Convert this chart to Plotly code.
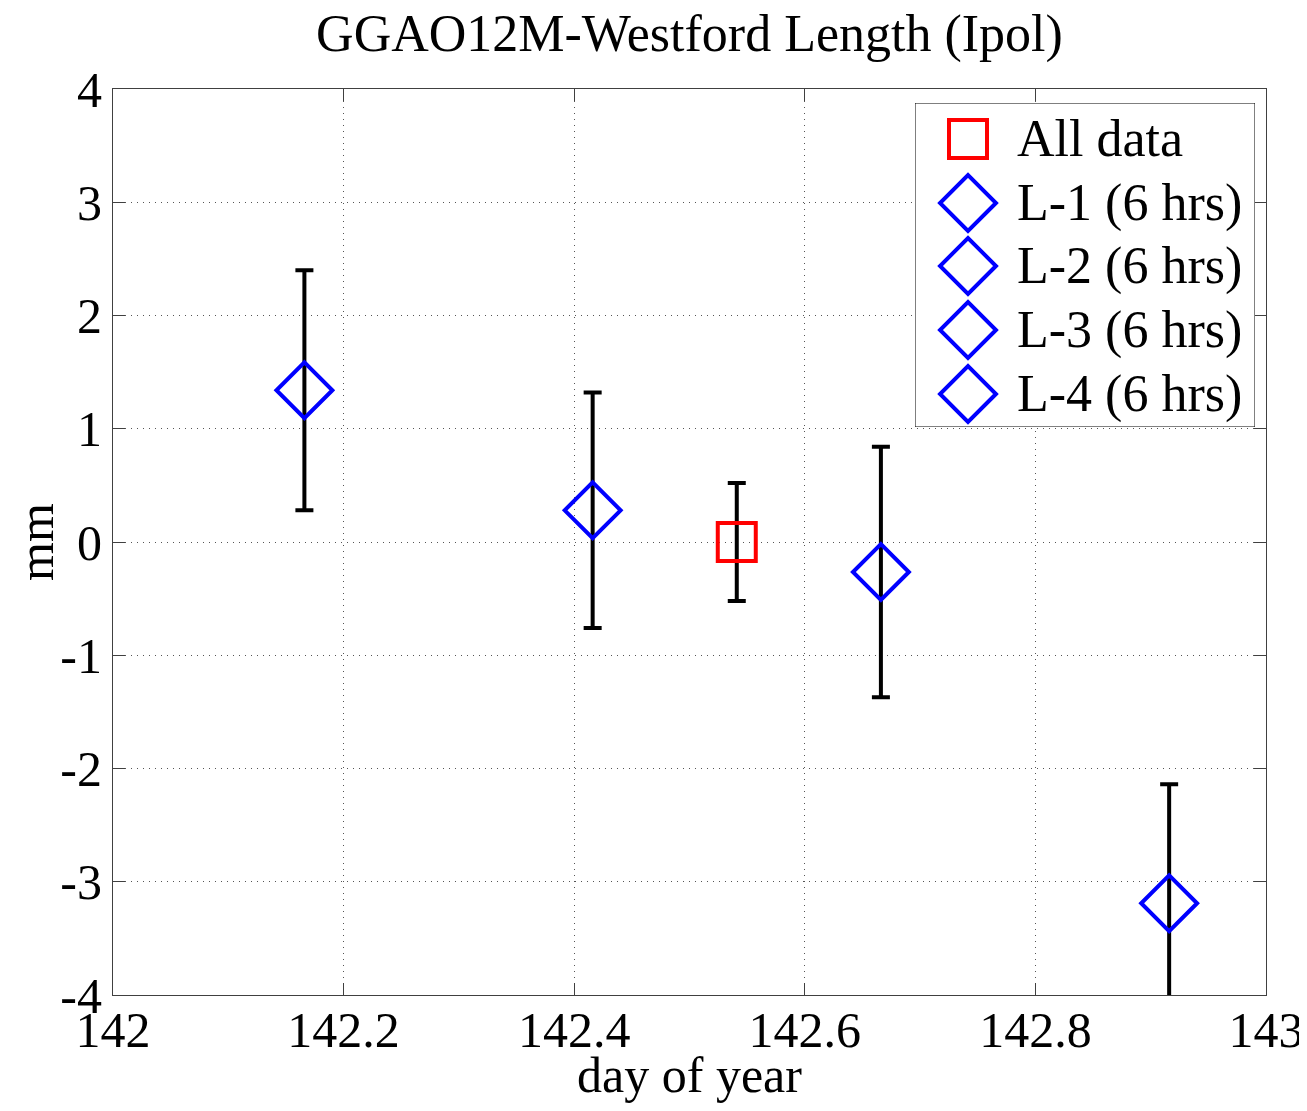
import plotly.graph_objects as go

# ---- data ----
series_names = ["All data", "L-1 (6 hrs)", "L-2 (6 hrs)", "L-3 (6 hrs)", "L-4 (6 hrs)"]
day_of_year = [142.541, 142.166, 142.416, 142.666, 142.916]
length_mm = [0.0, 1.34, 0.28, -0.265, -3.19]
sigma_mm = [0.52, 1.06, 1.04, 1.105, 1.05]
x_ticks = [142, 142.2, 142.4, 142.6, 142.8, 143]
x_tick_labels = ["142", "142.2", "142.4", "142.6", "142.8", "143"]
y_ticks = [-4, -3, -2, -1, 0, 1, 2, 3, 4]
y_tick_labels = ["-4", "-3", "-2", "-1", "0", "1", "2", "3", "4"]

FONT = "Liberation Serif, Times New Roman, serif"
RED = "#ff0000"
BLUE = "#0000ff"
FS = 50

fig = go.Figure()

for i, name in enumerate(series_names):
    is_all = (i == 0)
    fig.add_trace(go.Scatter(
        x=[day_of_year[i]], y=[length_mm[i]], mode="markers", name=name,
        showlegend=False,
        marker=dict(symbol="square-open" if is_all else "diamond-open",
                    size=38 if is_all else 43,
                    color=RED if is_all else BLUE,
                    line=dict(width=4, color=RED if is_all else BLUE)),
        error_y=dict(type="data", array=[sigma_mm[i]], color="black",
                     thickness=4, width=9),
        cliponaxis=True,
    ))

# ---- custom legend (drawn in a pixel-unit helper subplot) ----
box_w, box_h = 340, 324
fig.add_trace(go.Scatter(
    x=[0, box_w, box_w, 0, 0], y=[0, 0, box_h, box_h, 0],
    xaxis="x2", yaxis="y2", mode="lines", fill="toself",
    fillcolor="white", line=dict(color="black", width=1),
    showlegend=False, hoverinfo="skip"))
row_y = [36, 100, 163, 227, 291]
for i, name in enumerate(series_names):
    is_all = (i == 0)
    fig.add_trace(go.Scatter(
        x=[53], y=[row_y[i]], xaxis="x2", yaxis="y2", mode="markers",
        showlegend=False, hoverinfo="skip",
        marker=dict(symbol="square-open" if is_all else "diamond-open",
                    size=38 if is_all else 43,
                    color=RED if is_all else BLUE,
                    line=dict(width=4, color=RED if is_all else BLUE))))
    fig.add_annotation(x=100, y=row_y[i], xref="x2", yref="y2", text=name,
                       showarrow=False, xanchor="left", yanchor="middle",
                       font=dict(family=FONT, size=52, color="black"))

axis_common = dict(
    showline=True, linecolor="#404040", linewidth=1, mirror="ticks",
    ticks="inside", ticklen=12, tickcolor="#404040",
    showgrid=True, gridcolor="#555555", gridwidth=1, griddash="1px,5px",
    zeroline=False, automargin=False,
    tickfont=dict(family=FONT, size=FS, color="black"),
)

W, H = 1299, 1095  # page body adds an 8px margin on each side
fig.update_layout(
    width=W, height=H,
    margin=dict(l=105, r=41, t=81, b=108),
    paper_bgcolor="white", plot_bgcolor="white",
    font=dict(family=FONT, color="black"),
    title=dict(text="GGAO12M-Westford Length (Ipol)", x=0.5, xref="paper",
               y=1 - 25 / H, yref="container", xanchor="center", yanchor="middle",
               automargin=False,
               font=dict(family=FONT, size=52, color="black")),
    xaxis=dict(range=[142, 143], tickvals=x_ticks, ticktext=x_tick_labels,
               ticklabelstandoff=-9,
               title=dict(text="day of year", font=dict(family=FONT, size=FS), standoff=0),
               **axis_common),
    yaxis=dict(range=[-4, 4], tickvals=y_ticks, ticktext=y_tick_labels,
               title=dict(text="mm", font=dict(family=FONT, size=FS), standoff=31),
               **axis_common),
    xaxis2=dict(domain=[(915 - 113) / 1153, (1255 - 113) / 1153], range=[0, box_w],
                anchor="y2", visible=False, fixedrange=True),
    yaxis2=dict(domain=[(995 - 427) / 906, (995 - 103) / 906], range=[box_h, 0],
                anchor="x2", visible=False, fixedrange=True),
    showlegend=False,
)

fig.write_html("out.html")
